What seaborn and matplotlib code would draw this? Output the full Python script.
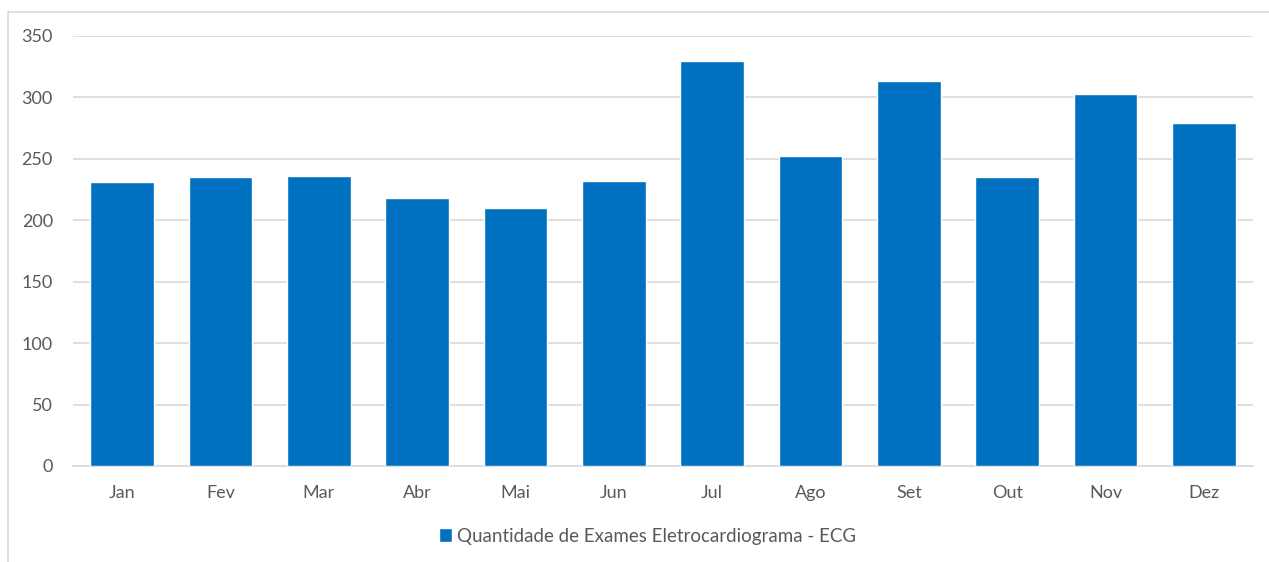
import matplotlib
matplotlib.use("Agg")
import matplotlib.pyplot as plt
import seaborn as sns
import pandas as pd
from matplotlib.lines import Line2D

months = ["Jan", "Fev", "Mar", "Abr", "Mai", "Jun", "Jul", "Ago", "Set", "Out", "Nov", "Dez"]
values = [231, 235, 236, 218, 210, 232, 330, 252, 313, 235, 303, 279]
series_name = "Quantidade de Exames Eletrocardiograma - ECG"
yticks = [0, 50, 100, 150, 200, 250, 300, 350]

sns.set_theme(style="white")
plt.rcParams["font.family"] = ["Lato", "DejaVu Sans"]

df = pd.DataFrame({"Mês": months, "Valor": values})

fig = plt.figure(figsize=(12.69, 5.62), dpi=100)
ax = fig.add_axes([73/1269, 1 - 466/562, (1253-73)/1269, 430/562])

sns.barplot(data=df, x="Mês", y="Valor", color="#0070C0", saturation=1,
            width=0.65, ax=ax, label=series_name, zorder=3)

ax.set_ylim(0, 350)
ax.set_xlim(-0.5, 11.5)
ax.set_yticks(yticks)
ax.yaxis.grid(True, color="#d9d9d9", linewidth=1.2, zorder=0)
ax.set_axisbelow(True)
for s in ["top", "right", "left"]:
    ax.spines[s].set_visible(False)
ax.spines["bottom"].set_color("#d9d9d9")
ax.spines["bottom"].set_linewidth(1.2)
ax.set_xlabel("")
ax.set_ylabel("")
ax.tick_params(axis="both", length=0, labelsize=13, colors="#595959")
ax.tick_params(axis="x", pad=14)
ax.tick_params(axis="y", pad=14.5)

leg = ax.legend(loc="center", bbox_to_anchor=(0.487, -0.163), frameon=False,
                fontsize=13.5, handlelength=0.7, handleheight=0.7, handletextpad=0.3)
for t in leg.get_texts():
    t.set_color("#595959")

# outer chart border (top and left only visible in reference)
W, H = 1269, 562
fig.add_artist(Line2D([8/W, 1.0], [1 - 12/H, 1 - 12/H], transform=fig.transFigure,
                      color="#d9d9d9", linewidth=1.2))
fig.add_artist(Line2D([8/W, 8/W], [0, 1 - 12/H], transform=fig.transFigure,
                      color="#d9d9d9", linewidth=1.2))

fig.savefig("out.png", dpi=100, facecolor="white")
